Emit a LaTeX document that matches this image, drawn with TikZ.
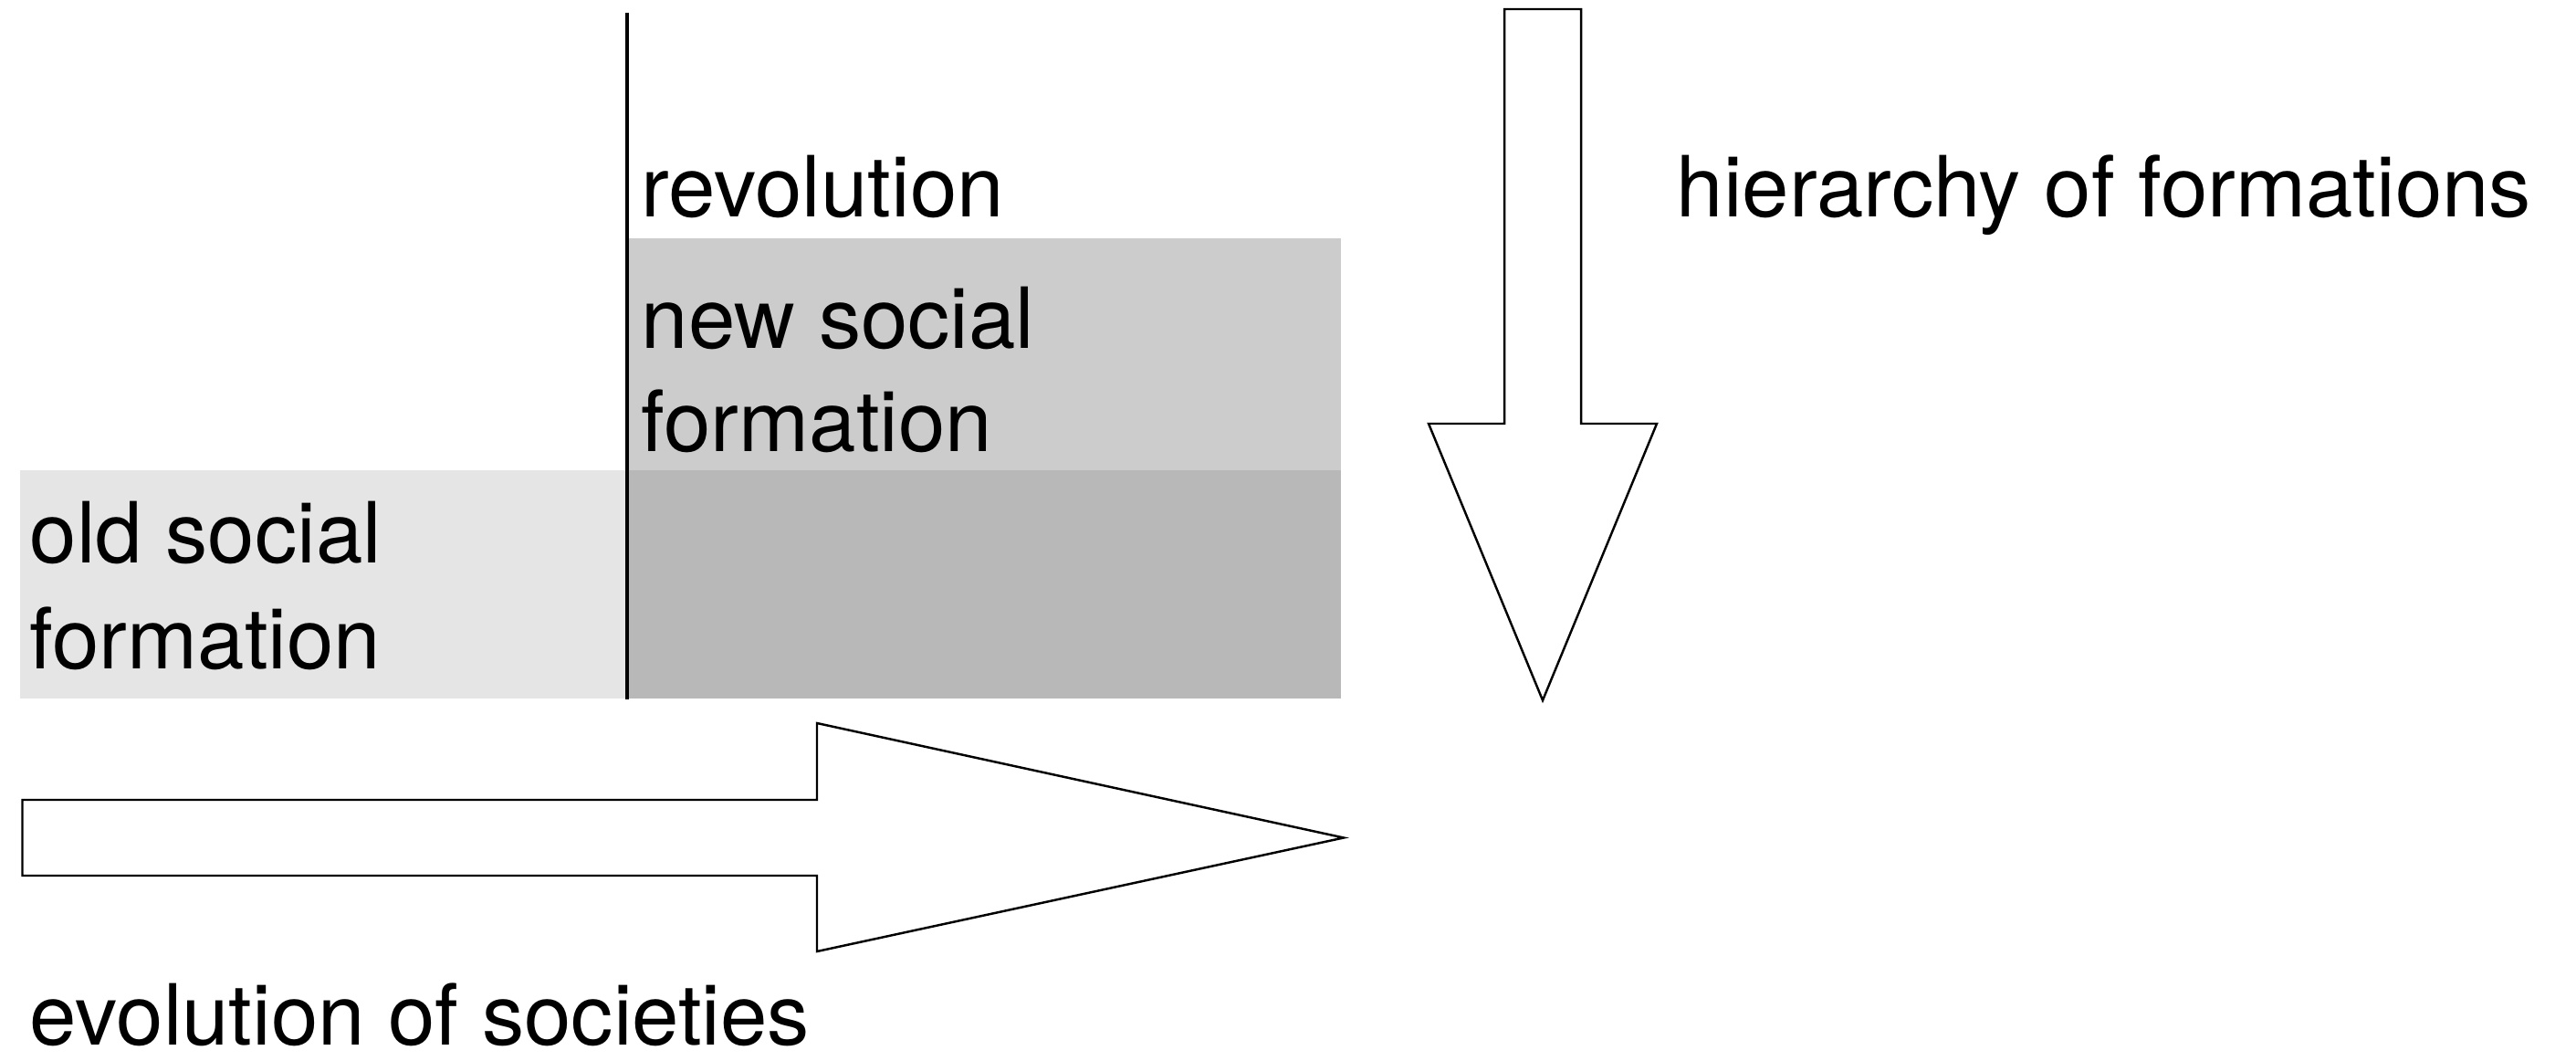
\documentclass[tikz,border=0pt]{standalone}
\usepackage{fontspec}
\setmainfont{TeX Gyre Heros}
\usetikzlibrary{positioning}
\definecolor{oldGray}{gray}{0.90}
\definecolor{newGray}{gray}{0.80}
\definecolor{bothGray}{gray}{0.72}
\tikzset{txt/.style={anchor=base west,inner sep=0pt,font=\fontsize{26.3}{32.5}\selectfont}}
\tikzset{fatarrow/.style={draw,line width=0.7pt,fill=white,line join=miter}}

\begin{document}
\begin{tikzpicture}[x=1mm,y=-1mm]
\useasboundingbox (0,0) rectangle (282.2,116.2);

\node (old) at (35.4,64) [fill=oldGray,minimum width=66.4mm,minimum height=25mm,inner sep=0pt] {};
\node (new) at (107.9,38.8) [fill=newGray,minimum width=78mm,minimum height=25.4mm,inner sep=0pt] {};
\node (both) at (107.9,64) [fill=bothGray,minimum width=78mm,minimum height=25mm,inner sep=0pt] {};
\coordinate (revtop) at (68.7,1.4);
\draw [line width=1.1pt] (revtop) -- (revtop |- old.south);

\node (revlbl) at (70.2,23.8) [txt] {revolution};
\node (newlbl1) at (70.2,38.2) [txt] {new social};
\node (newlbl2) at (70.2,49.5) [txt] {formation};
\node (oldlbl1) at (3.2,61.7) [txt] {old social};
\node (oldlbl2) at (3.2,73.3) [txt] {formation};
\node (hierlbl) at (183.6,23.8) [txt] {hierarchy of formations};
\node (evollbl) at (3.2,114.4) [txt] {evolution of societies};

\draw [fatarrow] (2.45,87.6) -- (89.5,87.6) -- (89.5,79.2) -- (147.2,91.75)
  -- (89.5,104.2) -- (89.5,95.9) -- (2.45,95.9) -- cycle;
\draw [fatarrow] (164.8,1.0) -- (173.2,1.0) -- (173.2,46.4) -- (181.5,46.4)
  -- (169.0,76.7) -- (156.5,46.4) -- (164.8,46.4) -- cycle;

\end{tikzpicture}
\end{document}
